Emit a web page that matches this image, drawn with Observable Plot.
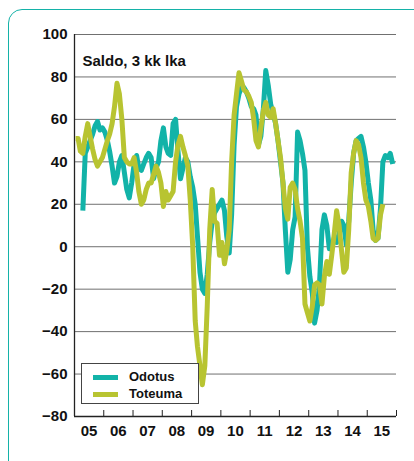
<!DOCTYPE html>
<html><head><meta charset="utf-8">
<script src="https://cdn.jsdelivr.net/npm/d3@7"></script>
<script src="https://cdn.jsdelivr.net/npm/@observablehq/plot@0.6"></script>
<style>
body{margin:0;background:#fff;font-family:"Liberation Sans",Arial,sans-serif;}
#wrap{position:relative;width:414px;height:461px;overflow:hidden;}
#border{position:absolute;left:8px;top:9px;width:440px;height:490px;border:1.5px solid #14b2a8;border-radius:14px;box-sizing:border-box;pointer-events:none;}
#legend{position:absolute;left:81px;top:363px;width:118px;height:41px;border:1px solid #444;background:#fff;box-sizing:border-box;}
.item{position:absolute;left:11px;height:16px;font-weight:bold;font-size:13px;color:#111;}
.sw{position:absolute;left:0;top:6px;width:25px;height:5px;}
.lab{position:absolute;left:36px;top:0;line-height:16px;}
</style>
</head><body>
<div id="wrap"><div id="chart"></div><div id="border"></div>
<div id="legend">
 <div class="item" style="top:5px"><div class="sw" style="background:#12b3a8"></div><div class="lab">Odotus</div></div>
 <div class="item" style="top:22px"><div class="sw" style="background:#b8c431"></div><div class="lab">Toteuma</div></div>
</div></div>
<script>
const title = "Saldo, 3 kk lka";
const seriesNames = ["Odotus", "Toteuma"];
const yTicks = [100, 80, 60, 40, 20, 0, -20, -40, -60, -80];
const yearLabels = ["05","06","07","08","09","10","11","12","13","14","15"];
const firstYear = 2005;
// monthly values, Toteuma from Jan 2005, Odotus from Apr 2005
const toteumaStartMonth = 0;
const toteuma = [51,51,45,44,52,58,52,46,41,38,40,42,46,50,53,58,66,77,72,60,42,40,39,39,
 42,35,26,20,22,27,30,30,34,38,35,30,19,26,22,24,26,40,48,52,47,43,38,22,
 0,-35,-47,-56,-65,-56,-28,8,27,12,11,-4,2,-8,-2,8,40,62,72,82,78,74,73,71,
 68,60,50,47,56,64,68,62,61,65,58,50,42,30,18,13,28,30,27,18,12,4,-27,-31,
 -35,-28,-18,-17,-18,-27,-14,-7,-13,-4,6,17,10,-2,-12,-10,8,35,44,50,48,42,30,22,
 19,12,4,3,4,15,20];
const odotusStartMonth = 3;
const odotus = [17,44,47,50,53,57,59,55,56,54,50,45,38,30,33,40,43,35,27,23,30,
 39,43,37,36,39,42,44,42,32,37,40,50,56,47,44,43,58,60,45,32,37,42,40,33,
 28,20,5,-12,-20,-22,-13,2,12,16,18,20,22,17,5,-3,15,48,66,72,75,75,73,70,
 66,65,62,48,52,65,83,76,67,63,58,50,40,30,8,-12,-6,8,14,54,50,44,36,0,
 -14,-22,-36,-30,-18,8,15,10,-1,0,4,2,6,12,10,1,12,30,44,50,51,52,47,40,
 30,22,8,3,4,18,40,43,42,44,39];

const mk = (arr, start, name) => arr.map((v, i) => ({date: new Date(Date.UTC(firstYear, start + i, 15)), value: v, series: name}));
const odData = mk(odotus, odotusStartMonth, seriesNames[0]);
const toData = mk(toteuma, toteumaStartMonth, seriesNames[1]);
const yearStarts = d3.range(firstYear, firstYear + yearLabels.length + 1).map(y => new Date(Date.UTC(y, 0, 1)));
const yearMids = d3.range(firstYear, firstYear + yearLabels.length).map(y => new Date(Date.UTC(y, 6, 1)));
const teal = "#12b3a8", lime = "#b8c431";
const font = "'Liberation Sans', Arial, sans-serif";

const chart = Plot.plot({
  width: 414, height: 461,
  marginLeft: 74, marginRight: 18, marginTop: 34, marginBottom: 45,
  style: {fontFamily: font, background: "transparent", color: "#111"},
  x: {type: "utc", domain: [yearStarts[0], yearStarts[yearStarts.length - 1]], label: null},
  y: {domain: [-80, 100], label: null},
  marks: [
    Plot.gridY(yTicks.filter(v => v > -80), {stroke: "#707070", strokeOpacity: 1, strokeWidth: 1}),
    Plot.ruleY([-80], {stroke: "#222", strokeWidth: 1.3}),
    Plot.ruleX([yearStarts[0]], {stroke: "#222", strokeWidth: 1.3}),
    Plot.axisY(yTicks, {tickSize: 0, tickPadding: 7, fontSize: 15, fontWeight: "bold", fill: "#111", label: null}),
    Plot.axisX(yearStarts, {tickSize: -6, tickFormat: () => "", stroke: "#222", label: null}),
    Plot.axisX(yearMids, {tickSize: 0, tickPadding: 9, fontSize: 15, fontWeight: "bold", fill: "#111", label: null,
      tickFormat: d => yearLabels[d.getUTCFullYear() - firstYear]}),
    Plot.line(odData, {x: "date", y: "value", stroke: teal, strokeWidth: 5, strokeLinejoin: "round", strokeLinecap: "butt"}),
    Plot.line(toData, {x: "date", y: "value", stroke: lime, strokeWidth: 5, strokeLinejoin: "round", strokeLinecap: "butt"}),
    Plot.text([title], {frameAnchor: "top-left", dx: 8, dy: 21, textAnchor: "start", fontSize: 15, fontWeight: "bold", fill: "#111"})
  ]
});
document.getElementById("chart").appendChild(chart);
</script>
</body></html>
